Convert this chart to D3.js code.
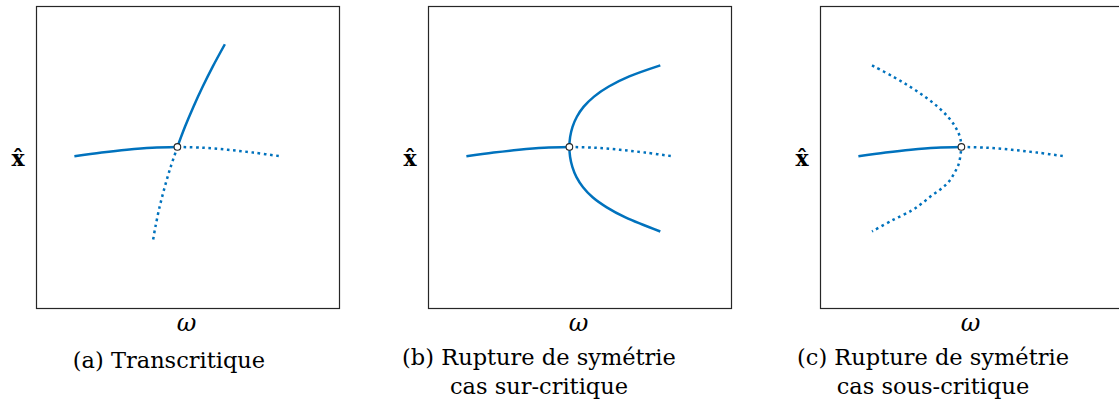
<!DOCTYPE html>
<html>
<head>
<meta charset="utf-8">
<script src="https://cdn.jsdelivr.net/npm/d3@7"></script>
<style>
	body { margin: 0; background: #fff; }
	svg { display: block; }
	text { font-family: "DejaVu Serif", serif; fill: #000; }
</style>
</head>
<body>
<div id="chart"></div>
<script>
// branche triviale, commune aux trois cas : [omega, x]
const trivialStable = [[-1.02, -0.092], [-0.75, -0.056], [-0.5, -0.028], [-0.25, -0.008], [0, 0]];
const trivialUnstable = [[0, 0], [0.25, -0.008], [0.5, -0.028], [0.75, -0.056], [1.04, -0.095]];

// (a) transcritique
const transUpper = [[0, 0], [0.075, 0.2], [0.159, 0.4], [0.251, 0.6], [0.351, 0.8], [0.47, 1.02]];
const transLower = [[0, 0], [-0.067, -0.2], [-0.126, -0.4], [-0.177, -0.6], [-0.219, -0.8], [-0.24, -0.92]];

// (b) sur-critique
const superBranch = [[0.9, 0.81], [0.593, 0.7], [0.39, 0.6], [0.244, 0.5], [0.142, 0.4], [0.074, 0.3], [0.031, 0.2], [0.0074, 0.1],
	[0, 0], [0.007, -0.1], [0.03, -0.2], [0.07, -0.3], [0.135, -0.4], [0.23, -0.5], [0.37, -0.6], [0.555, -0.7], [0.9, -0.84]];

// (c) sous-critique
const subBranch = [[-0.885, 0.81], [-0.68, 0.7], [-0.512, 0.6], [-0.363, 0.5], [-0.236, 0.4], [-0.134, 0.3], [-0.06, 0.2], [-0.015, 0.1],
	[0, 0], [-0.005, -0.05], [-0.027, -0.17], [-0.07, -0.26], [-0.126, -0.347], [-0.2, -0.415], [-0.29, -0.48], [-0.39, -0.56], [-0.489, -0.63], [-0.687, -0.73], [-0.885, -0.84]];

const bifurcation = [0, 0];
const captions = [
	["(a) Transcritique"],
	["(b) Rupture de symétrie", "cas sur-critique"],
	["(c) Rupture de symétrie", "cas sous-critique"]
];
const xLabel = "ω";
const yLabel = "x\u0302";

let Fig = {
	constant: {
		width: 1119,
		height: 408,
		boxLefts: [36, 428, 820],
		boxTop: 6,
		boxW: 303,
		boxH: 302,
		captionX: [169, 539, 933],
		color: "#0072BD",
		lineW: 2.5,
		dots: "2.6,3.6"
	},
	omega: [-1.4, 1.6],
	xhat: [-1.6, 1.4]
};

let panels = [
	{curves: [{d: trivialStable, dotted: false}, {d: trivialUnstable, dotted: true}, {d: transUpper, dotted: false}, {d: transLower, dotted: true}]},
	{curves: [{d: trivialStable, dotted: false}, {d: trivialUnstable, dotted: true}, {d: superBranch, dotted: false}]},
	{curves: [{d: trivialStable, dotted: false}, {d: trivialUnstable, dotted: true}, {d: subBranch, dotted: true}]}
];

let C = Fig.constant;
let svg = d3.select("#chart")
	.append("svg")
	.attr("width", C.width)
	.attr("height", C.height)
;

panels.forEach((p, i) => {
	let x0 = C.boxLefts[i];
	let sx = d3.scaleLinear().domain(Fig.omega).range([x0, x0 + C.boxW]);
	let sy = d3.scaleLinear().domain(Fig.xhat).range([C.boxTop + C.boxH, C.boxTop]);
	let line = d3.line()
		.x((d) => sx(d[0]))
		.y((d) => sy(d[1]))
		.curve(d3.curveCatmullRom.alpha(0.5))
	;
	let g = svg.append("g");

	g.append("rect")
		.attr("x", x0 + 0.5)
		.attr("y", C.boxTop + 0.5)
		.attr("width", C.boxW)
		.attr("height", C.boxH)
		.attr("fill", "none")
		.attr("stroke", "#262626")
		.attr("stroke-width", 1.2)
	;

	g.selectAll("path.curve")
		.data(p.curves)
		.enter().append("path")
		.attr("class", "curve")
		.attr("d", (c) => line(c.d))
		.attr("fill", "none")
		.attr("stroke", C.color)
		.attr("stroke-width", C.lineW)
		.attr("stroke-dasharray", (c) => c.dotted ? C.dots : null)
	;

	g.append("circle")
		.attr("cx", sx(bifurcation[0]))
		.attr("cy", sy(bifurcation[1]))
		.attr("r", 3.3)
		.attr("fill", "#fff")
		.attr("stroke", "#262626")
		.attr("stroke-width", 1.1)
	;

	g.append("text")
		.attr("x", x0 + C.boxW / 2 - 1)
		.attr("y", 331)
		.attr("text-anchor", "middle")
		.style("font-style", "italic")
		.style("font-size", "24px")
		.text(xLabel)
	;
	g.append("text")
		.attr("x", x0 - 18)
		.attr("y", 166)
		.attr("text-anchor", "middle")
		.style("font-weight", "bold")
		.style("font-size", "22px")
		.text(yLabel)
	;

	let cap = g.append("text")
		.attr("text-anchor", "middle")
		.style("font-size", "22.5px")
	;
	captions[i].forEach((s, k) => {
		cap.append("tspan")
			.attr("x", C.captionX[i])
			.attr("y", (i === 0 ? 368 : 365) + k * 29)
			.text(s)
		;
	});
});
</script>
</body>
</html>
